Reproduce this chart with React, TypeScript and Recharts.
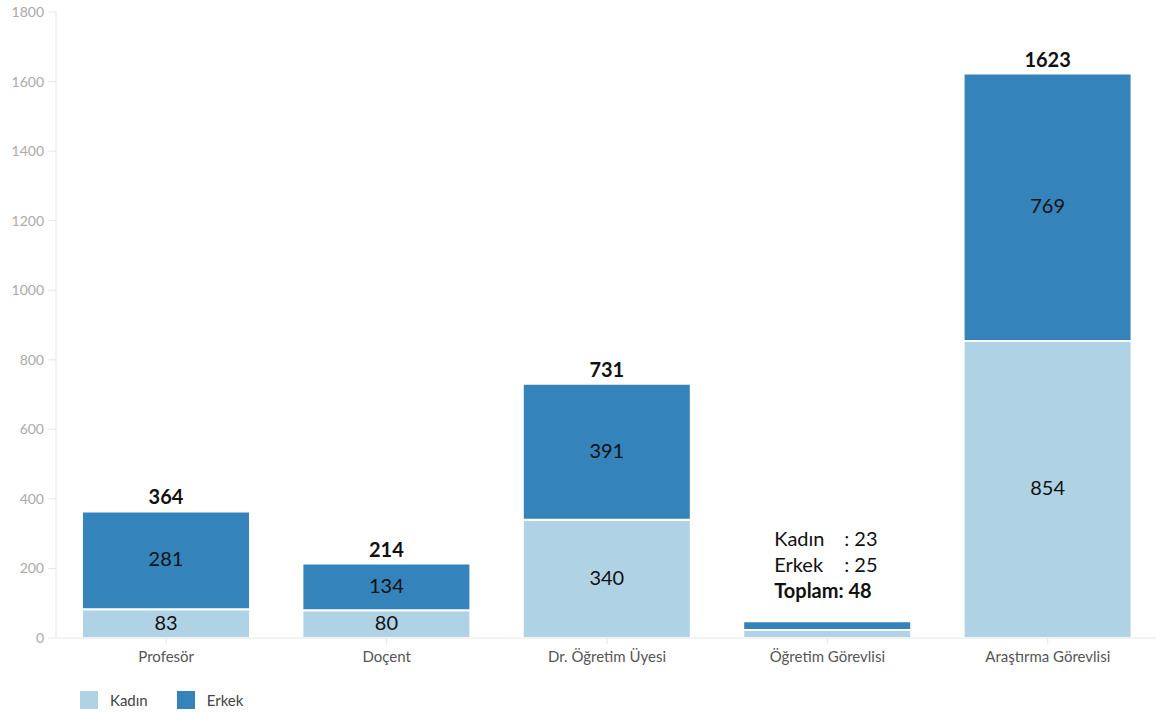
import React from 'react';
import { BarChart, Bar, XAxis, YAxis, LabelList } from 'recharts';

const categories = ['Profesör', 'Doçent', 'Dr. Öğretim Üyesi', 'Öğretim Görevlisi', 'Araştırma Görevlisi'];
const kadin = [83, 80, 340, 23, 854];
const erkek = [281, 134, 391, 25, 769];
const yTicks = [0, 200, 400, 600, 800, 1000, 1200, 1400, 1600, 1800];

const LIGHT = '#afd3e5';
const DARK = '#3483bb';
const FONT = 'Lato, "Open Sans", sans-serif';

const data = categories.map((name, i) => ({
  name,
  kadin: kadin[i],
  erkek: erkek[i],
  total: kadin[i] + erkek[i],
}));

// small bars get a note instead of inner labels
const NOTE_INDEX = 3;

const InnerLabel = (props: any) => {
  const { x, y, width, height, value, index } = props;
  if (index === NOTE_INDEX) return null;
  return (
    <text x={x + width / 2} y={y + height / 2 - 2} textAnchor="middle" dominantBaseline="central"
      fontSize={20} fontFamily={FONT} fill="#111">
      {value}
    </text>
  );
};

const TopLabel = (props: any) => {
  const { x, y, width, index } = props;
  const d = data[index];
  const cx = x + width / 2;
  if (index === NOTE_INDEX) {
    const left = cx - 53;
    const colonX = left + 70;
    return (
      <g fontFamily={FONT} fontSize={20} fill="#111">
        <text x={left} y={y - 83} dominantBaseline="central">Kadın</text>
        <text x={colonX} y={y - 83} dominantBaseline="central">: {d.kadin}</text>
        <text x={left} y={y - 57} dominantBaseline="central">Erkek</text>
        <text x={colonX} y={y - 57} dominantBaseline="central">: {d.erkek}</text>
        <text x={left} y={y - 31} dominantBaseline="central" fontWeight="bold">Toplam: {d.total}</text>
      </g>
    );
  }
  return (
    <text x={cx} y={y - 15} textAnchor="middle" dominantBaseline="central"
      fontSize={20} fontWeight="bold" fontFamily={FONT} fill="#111">
      {d.total}
    </text>
  );
};

const LegendBox = () => (
  <div style={{ display: 'flex', alignItems: 'center', fontFamily: FONT, fontSize: 15, color: '#444', paddingLeft: 80 }}>
    <span style={{ width: 18, height: 18, background: LIGHT, display: 'inline-block' }} />
    <span style={{ marginLeft: 12, marginRight: 29 }}>Kadın</span>
    <span style={{ width: 18, height: 18, background: DARK, display: 'inline-block' }} />
    <span style={{ marginLeft: 12 }}>Erkek</span>
  </div>
);

export default function App() {
  return (
    <div style={{ width: 1156, height: 713, background: '#fff', position: 'relative', overflow: 'hidden' }}>
      <style>{`body{margin:0}`}</style>
      <BarChart width={1158} height={680} data={data} margin={{ top: 12, right: 0, left: 0, bottom: 0 }} barSize={168}>
        <XAxis dataKey="name" stroke="#e6e6e6" tick={{ fill: '#555', fontSize: 15, fontFamily: FONT, dy: 5 }}
          tickLine={{ stroke: '#e6e6e6' }} tickSize={6} height={42} />
        <YAxis domain={[0, 1800]} ticks={yTicks} width={56} stroke="#e6e6e6"
          tick={{ fill: '#aaa', fontSize: 14, fontFamily: FONT, dx: -2 }} tickLine={{ stroke: '#e6e6e6' }} tickSize={8} />
        <Bar dataKey="kadin" stackId="a" fill={LIGHT} stroke="#fff" strokeWidth={2} isAnimationActive={false}>
          <LabelList dataKey="kadin" content={InnerLabel} />
        </Bar>
        <Bar dataKey="erkek" stackId="a" fill={DARK} stroke="#fff" strokeWidth={2} isAnimationActive={false}>
          <LabelList dataKey="erkek" content={InnerLabel} />
          <LabelList dataKey="total" content={TopLabel} />
        </Bar>
      </BarChart>
      <div style={{ position: 'absolute', left: 0, top: 691 }}>
        <LegendBox />
      </div>
    </div>
  );
}
